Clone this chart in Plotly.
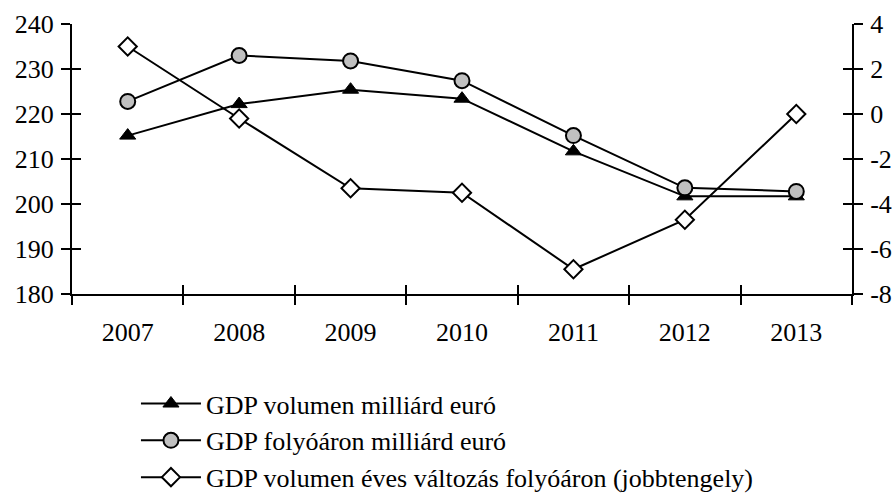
import plotly.graph_objects as go

years = ["2007", "2008", "2009", "2010", "2011", "2012", "2013"]
gdp_volumen = [215.2, 222.2, 225.4, 223.4, 211.7, 201.7, 201.7]
gdp_folyoaron = [222.8, 233.0, 231.8, 227.4, 215.2, 203.6, 202.8]
valtozas = [3.0, -0.2, -3.3, -3.5, -6.9, -4.7, 0.0]

left_ticks = [180, 190, 200, 210, 220, 230, 240]
right_ticks = [-8, -6, -4, -2, 0, 2, 4]
right_labels = ["-8", "-6", "-4", "-2", "0", "2", "4"]

names = ["GDP volumen milliárd euró",
         "GDP folyóáron milliárd euró",
         "GDP volumen éves változás folyóáron (jobbtengely)"]

FONT = dict(family="Liberation Serif, Times New Roman, serif", size=26, color="black")

fig = go.Figure()
fig.add_trace(go.Scatter(x=years, y=gdp_volumen, name=names[0], mode="lines+markers",
                         line=dict(color="black", width=2),
                         marker=dict(symbol="triangle-up", size=14, color="black",
                                     line=dict(color="black", width=1))))
fig.add_trace(go.Scatter(x=years, y=gdp_folyoaron, name=names[1], mode="lines+markers",
                         line=dict(color="black", width=2),
                         marker=dict(symbol="circle", size=15, color="#C0C0C0",
                                     line=dict(color="black", width=2))))
fig.add_trace(go.Scatter(x=years, y=valtozas, name=names[2], mode="lines+markers",
                         yaxis="y2",
                         line=dict(color="black", width=2),
                         marker=dict(symbol="diamond", size=14, color="white",
                                     line=dict(color="black", width=2))))
# empty helper traces so the inner tick-halves (overlay axes) are drawn
fig.add_trace(go.Scatter(x=[], y=[], xaxis="x2", yaxis="y3", showlegend=False,
                         hoverinfo="skip"))
fig.add_trace(go.Scatter(x=[], y=[], xaxis="x2", yaxis="y4", showlegend=False,
                         hoverinfo="skip"))

ax_common = dict(showline=True, linecolor="black", linewidth=2, ticklen=9, tickwidth=2,
                 tickcolor="black", showgrid=False, zeroline=False, tickfont=FONT,
                 automargin=False, fixedrange=True)
xcat = dict(type="category", categoryorder="array", categoryarray=years,
            range=[-0.5, 6.5], tickson="boundaries", tickmode="array", tickvals=years)

fig.update_layout(
    width=896, height=498,
    margin=dict(l=72, r=44, t=24, b=204, autoexpand=False),
    paper_bgcolor="white", plot_bgcolor="white",
    font=FONT,
    xaxis=dict(ticks="outside", ticklabelstandoff=14, **xcat, **ax_common),
    xaxis2=dict(ticks="inside", overlaying="x", anchor="y3", showticklabels=False,
                **xcat, **ax_common),
    yaxis=dict(range=[180, 240], tickmode="array", tickvals=left_ticks, ticks="outside",
               ticklabelstandoff=2, **ax_common),
    yaxis3=dict(range=[180, 240], tickmode="array", tickvals=left_ticks, ticks="inside",
                overlaying="y", anchor="x2", showticklabels=False, **ax_common),
    yaxis2=dict(range=[-8, 4], tickmode="array", tickvals=right_ticks, ticktext=right_labels,
                ticks="outside", side="right", overlaying="y", ticklabelstandoff=2,
                **ax_common),
    yaxis4=dict(range=[-8, 4], tickmode="array", tickvals=right_ticks, ticks="inside",
                side="right", overlaying="y", anchor="x2", showticklabels=False,
                **ax_common),
    showlegend=True,
    legend=dict(orientation="v", x=0.082, xanchor="left", y=-0.319, yanchor="top",
                font=FONT, itemwidth=60, tracegroupgap=0, bgcolor="rgba(0,0,0,0)"),
)

fig.write_html("out.html", config={"displayModeBar": False},
               post_script="document.body.style.margin='0';document.body.style.overflow='hidden';")
